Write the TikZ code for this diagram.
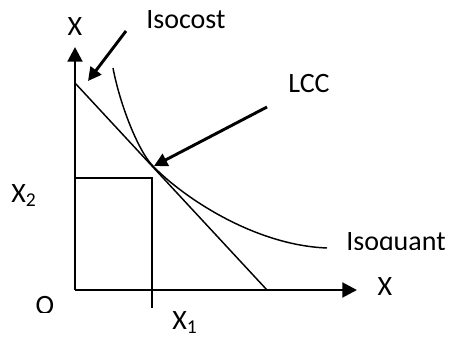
\documentclass[tikz,border=0pt]{standalone}
\usepackage{fontspec}
\setmainfont{Carlito}
\usetikzlibrary{arrows.meta}
\begin{document}
\begin{tikzpicture}[x=0.75pt,y=-0.75pt,
  lbl/.style={inner sep=0pt,font=\fontsize{21}{25}\selectfont},
  axis/.style={line width=2.2pt,-{Triangle[length=11pt,width=11pt]}},
  thin/.style={line width=1.1pt},
  pointer/.style={line width=2.2pt,-{Triangle[length=10pt,width=10pt]}}]
\useasboundingbox (0,0) rectangle (453,339);
% coordinates
\coordinate (O) at (75,290);
\coordinate (ytop) at (75,47);
\coordinate (ybot) at (75,276);
\coordinate (xend) at (357,290);
\coordinate (c0) at (75,83);
\coordinate (c1) at (267,290);
\coordinate (T) at (152,165);
\coordinate (q0) at (113,68);
\coordinate (q1) at (327,248);
\coordinate (r1) at (152,178);
\coordinate (r0) at (75,178);
\coordinate (rb) at (152,308);
\coordinate (a0) at (126,31);
\coordinate (a1) at (88,81);
\coordinate (b0) at (267,107);
\coordinate (b1) at (154,166);
% axes
\draw[axis] (ybot) -- (ytop);
\draw[axis] (O) -- (xend);
\draw[thin] (O) -- (ybot);
% isocost
\draw[thin] (c0) -- (c1);
% isoquant
\draw[thin] (q0) .. controls (120,105) and (138,150) .. (T)
  .. controls (177,192) and (250,245) .. (q1);
% rectangle
\draw[thin] (r0) -- (r1) -- (rb);
% pointers
\draw[pointer] (a0) -- (a1);
\draw[pointer] (b0) -- (b1);
% labels
\node[lbl,anchor=base] (lx) at (75,35) {X};
\node[lbl,anchor=base west] (liso) at (146,28) {Isocost};
\node[lbl,anchor=base west] (llcc) at (288,92) {LCC};
\node[lbl,anchor=base west] (lx2) at (11,202) {X\textsubscript{2}};
\node[lbl,anchor=base] (lxx) at (385,295) {X};
\node[lbl,anchor=base west] (lx1) at (172,329) {X\textsubscript{1}};
\begin{scope}
\clip (330,200) rectangle (453,249.5);
\node[lbl,anchor=base west] (lq) at (346,250) {Isoquant};
\end{scope}
\begin{scope}
\clip (20,290) rectangle (70,312);
\node[lbl,anchor=base] (lo) at (45,314) {O};
\end{scope}
\end{tikzpicture}
\end{document}
